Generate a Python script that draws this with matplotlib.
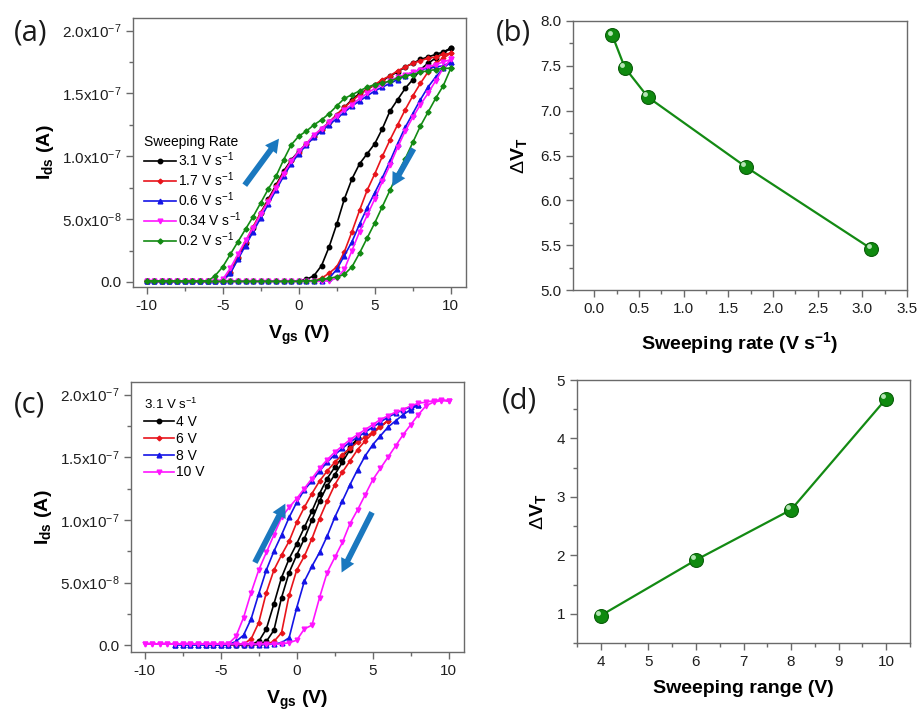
import numpy as np
import matplotlib
matplotlib.use("Agg")
import matplotlib.pyplot as plt
from matplotlib.ticker import MultipleLocator, FuncFormatter
from matplotlib.transforms import ScaledTranslation

plt.rcParams['font.family'] = ['Liberation Sans', 'DejaVu Sans']
plt.rcParams['mathtext.fontset'] = 'custom'
plt.rcParams['mathtext.rm'] = 'Liberation Sans'
plt.rcParams['mathtext.it'] = 'Liberation Sans:italic'
plt.rcParams['mathtext.bf'] = 'Liberation Sans:bold'
plt.rcParams['axes.unicode_minus'] = False

# ---------------- Panel (a): sweep -10 V -> 10 V -> -10 V, currents in 1e-7 A
a_vgs_fwd = np.arange(-10, 10.01, 0.5)
a_vgs_bwd = np.arange(10, -10.01, -0.5)
a_labels = ['3.1 V s$^{\\mathregular{-1}}$', '1.7 V s$^{\\mathregular{-1}}$', '0.6 V s$^{\\mathregular{-1}}$',
            '0.34 V s$^{\\mathregular{-1}}$', '0.2 V s$^{\\mathregular{-1}}$']
a_fwd_31 = [0.005]*10 + [0.01, 0.07, 0.19, 0.31, 0.43, 0.55, 0.66, 0.77, 0.88, 0.97, 1.04, 1.10, 1.16, 1.22, 1.27, 1.33,
                         1.39, 1.45, 1.50, 1.53, 1.57, 1.60, 1.64, 1.67, 1.71, 1.74, 1.77, 1.79, 1.81, 1.83, 1.86]
a_bwd_31 = [1.86, 1.82, 1.78, 1.74, 1.69, 1.61, 1.54, 1.45, 1.36, 1.22, 1.10, 1.02, 0.94, 0.82, 0.66, 0.46, 0.28,
            0.13, 0.05, 0.02, 0.01] + [0.005]*20
a_fwd_17 = [0.005]*10 + [0.01, 0.08, 0.20, 0.32, 0.44, 0.55, 0.65, 0.76, 0.87, 0.96, 1.03, 1.10, 1.15, 1.21, 1.27, 1.33,
                         1.39, 1.44, 1.49, 1.53, 1.57, 1.61, 1.64, 1.68, 1.71, 1.74, 1.76, 1.78, 1.79, 1.81, 1.82]
a_bwd_17 = [1.82, 1.78, 1.74, 1.67, 1.58, 1.48, 1.37, 1.25, 1.13, 1.00, 0.86, 0.73, 0.57, 0.40, 0.24, 0.12, 0.07,
            0.03, 0.01, 0.005, 0.005] + [0.005]*20
a_fwd_06 = [0.005]*10 + [0.01, 0.07, 0.18, 0.29, 0.40, 0.51, 0.62, 0.73, 0.84, 0.94, 1.02, 1.09, 1.15, 1.20, 1.25, 1.30,
                         1.35, 1.40, 1.44, 1.48, 1.52, 1.55, 1.58, 1.61, 1.64, 1.67, 1.69, 1.70, 1.71, 1.72, 1.75]
a_bwd_06 = [1.75, 1.70, 1.63, 1.55, 1.45, 1.34, 1.23, 1.10, 0.96, 0.83, 0.71, 0.59, 0.46, 0.32, 0.21, 0.10, 0.03,
            0.01, 0.005, 0.005, 0.005] + [0.005]*20
a_fwd_034 = [0.005]*10 + [0.02, 0.11, 0.22, 0.33, 0.43, 0.54, 0.64, 0.75, 0.86, 0.96, 1.04, 1.10, 1.17, 1.22, 1.27, 1.32,
                          1.37, 1.41, 1.46, 1.50, 1.54, 1.57, 1.60, 1.63, 1.65, 1.67, 1.69, 1.71, 1.73, 1.75, 1.77]
a_bwd_034 = [1.77, 1.70, 1.60, 1.50, 1.41, 1.31, 1.20, 1.07, 0.93, 0.80, 0.66, 0.53, 0.40, 0.25, 0.10, 0.03, 0.01,
             0.005, 0.005, 0.005, 0.005] + [0.005]*20
a_fwd_02 = [0.005]*9 + [0.05, 0.12, 0.22, 0.32, 0.42, 0.52, 0.63, 0.74, 0.84, 0.97, 1.09, 1.16, 1.20, 1.25, 1.29, 1.34,
                        1.40, 1.46, 1.49, 1.52, 1.55, 1.57, 1.58, 1.60, 1.62, 1.64, 1.65, 1.67, 1.68, 1.69, 1.70, 1.70]
a_bwd_02 = [1.70, 1.56, 1.46, 1.35, 1.24, 1.11, 0.98, 0.86, 0.73, 0.60, 0.47, 0.35, 0.23, 0.12, 0.06, 0.04, 0.03,
            0.02, 0.01, 0.01, 0.005] + [0.005]*20

# ---------------- Panel (c): sweeping range +-V at 3.1 V/s, currents in 1e-7 A
c_ranges = [4, 6, 8, 10]
c_labels = ['4 V', '6 V', '8 V', '10 V']
c_fwd_4 = [0.005, 0.005, 0.01, 0.03, 0.13, 0.33, 0.54, 0.69, 0.81, 0.94, 1.07, 1.21, 1.33, 1.42, 1.50, 1.58, 1.65]
c_bwd_4 = [1.65, 1.56, 1.46, 1.36, 1.27, 1.15, 1.00, 0.85, 0.72, 0.58, 0.38, 0.12, 0.03, 0.01, 0.005, 0.005, 0.005]
c_fwd_6 = [0.005]*5 + [0.01, 0.05, 0.18, 0.42, 0.60, 0.72, 0.83, 0.98, 1.10, 1.21, 1.31, 1.39, 1.46, 1.52, 1.57,
                       1.62, 1.66, 1.70, 1.75, 1.79]
c_bwd_6 = [1.79, 1.74, 1.69, 1.63, 1.56, 1.47, 1.38, 1.28, 1.15, 1.01, 0.85, 0.71, 0.60, 0.40, 0.10, 0.03, 0.01] + [0.005]*8
c_fwd_8 = [0.005]*8 + [0.03, 0.08, 0.21, 0.41, 0.60, 0.75, 0.88, 1.02, 1.14, 1.24, 1.31, 1.39, 1.46, 1.52, 1.57,
                       1.62, 1.66, 1.70, 1.74, 1.78, 1.82, 1.85, 1.88, 1.90, 1.92]
c_bwd_8 = [1.92, 1.88, 1.84, 1.79, 1.74, 1.67, 1.60, 1.51, 1.40, 1.28, 1.15, 1.02, 0.87, 0.74, 0.63, 0.51, 0.30,
           0.06, 0.02, 0.01] + [0.005]*13
c_fwd_10 = [0.01]*12 + [0.07, 0.22, 0.42, 0.60, 0.74, 0.88, 1.02, 1.10, 1.17, 1.25, 1.33, 1.41, 1.48, 1.54, 1.59,
                        1.64, 1.68, 1.72, 1.76, 1.80, 1.83, 1.86, 1.88, 1.91, 1.93, 1.94, 1.95, 1.96, 1.95]
c_bwd_10 = [1.95, 1.95, 1.94, 1.91, 1.84, 1.76, 1.68, 1.59, 1.50, 1.41, 1.32, 1.20, 1.08, 0.97, 0.82, 0.70, 0.58,
            0.38, 0.16, 0.13, 0.04, 0.02] + [0.01]*19

# ---------------- Panels (b) and (d)
b_rate = [0.2, 0.34, 0.6, 1.7, 3.1]
b_dvt = [7.84, 7.48, 7.15, 6.37, 5.46]
d_range = [4, 6, 8, 10]
d_dvt = [0.97, 1.92, 2.78, 4.68]

colors = ['#000000', '#e8141b', '#1414e6', '#ff14ff', '#138a13']
markers = ['o', 'D', '^', 'v', 'D']
msizes = [3.2, 2.4, 3.4, 3.4, 2.6]
arrow_c = '#1a78bf'
spine_c = '#6a6a6a'
text_c = '#1e1e1e'
green = '#138a13'

fig = plt.figure(figsize=(9.21, 7.15), dpi=100)
W, H = 921.0, 715.0


def add_ax(l, r, t, b):
    return fig.add_axes([l / W, 1 - b / H, (r - l) / W, (b - t) / H])


def style(ax):
    for s in ax.spines.values():
        s.set_color(spine_c)
        s.set_linewidth(1.0)
    ax.tick_params(which='both', direction='out', top=False, right=False, color=spine_c,
                   labelcolor=text_c, labelsize=11, width=1.0)
    ax.tick_params(which='major', length=5)
    ax.tick_params(which='minor', length=3)


def sci_fmt(v, pos):
    if abs(v) < 1e-12:
        return '0.0'
    e = int(np.floor(np.log10(abs(v)) + 1e-9))
    m = v / 10 ** e
    return r'$\mathregular{%.1fx10^{%d}}$' % (m, e)


def blue_arrow(ax, start, end):
    ax.annotate('', xy=end, xytext=start,
                arrowprops=dict(arrowstyle='simple,head_length=0.65,head_width=0.7,tail_width=0.28',
                                fc=arrow_c, ec='none', lw=0, mutation_scale=15, shrinkA=0, shrinkB=0))


axa = add_ax(133, 466, 18, 287)
axb = add_ax(573, 907, 21, 290)
axc = add_ax(131, 464, 382, 652)
axd = add_ax(577, 910, 380, 643)
for ax in (axa, axb, axc, axd):
    style(ax)

# ---- (a)
a_fwd = [a_fwd_31, a_fwd_17, a_fwd_06, a_fwd_034, a_fwd_02]
a_bwd = [a_bwd_31, a_bwd_17, a_bwd_06, a_bwd_034, a_bwd_02]
handles = []
for i in range(5):
    x = np.concatenate([a_vgs_fwd, a_vgs_bwd])
    y = np.concatenate([a_fwd[i], a_bwd[i]]) * 1e-7
    h, = axa.plot(x, y, color=colors[i], marker=markers[i], ms=msizes[i], lw=1.2, label=a_labels[i])
    handles.append(h)
axa.set_xlim(-10.9, 11.0)
axa.set_ylim(-0.04e-7, 2.1e-7)
axa.xaxis.set_major_locator(MultipleLocator(5))
axa.xaxis.set_minor_locator(MultipleLocator(2.5))
axa.yaxis.set_major_locator(MultipleLocator(0.5e-7))
axa.yaxis.set_minor_locator(MultipleLocator(0.25e-7))
axa.yaxis.set_major_formatter(FuncFormatter(sci_fmt))
axa.set_xlabel(r'$\mathbf{V_{gs}}$ (V)', fontsize=14, fontweight='bold', labelpad=8)
axa.set_ylabel(r'$\mathbf{I_{ds}}$ (A)', fontsize=14, fontweight='bold', labelpad=4)
axa.legend(handles=handles, loc='upper left', bbox_to_anchor=(0.0, 0.605), frameon=False,
           title='Sweeping Rate', title_fontsize=10, fontsize=10, handlelength=2.3,
           handletextpad=0.15, labelspacing=0.1, borderpad=0.3, alignment='left')
blue_arrow(axa, (-3.55, 0.77e-7), (-1.3, 1.14e-7))
blue_arrow(axa, (7.55, 1.06e-7), (6.15, 0.76e-7))

# ---- (c)
c_fwd = [c_fwd_4, c_fwd_6, c_fwd_8, c_fwd_10]
c_bwd = [c_bwd_4, c_bwd_6, c_bwd_8, c_bwd_10]
c_marks = ['o', 'D', '^', 'v']
handles = []
for i, v in enumerate(c_ranges):
    xf = np.arange(-v, v + 0.01, 0.5)
    xb = np.arange(v, -v - 0.01, -0.5)
    x = np.concatenate([xf, xb])
    y = np.concatenate([c_fwd[i], c_bwd[i]]) * 1e-7
    h, = axc.plot(x, y, color=colors[i], marker=c_marks[i], ms=msizes[i], lw=1.2, label=c_labels[i])
    handles.append(h)
axc.set_xlim(-10.9, 11.0)
axc.set_ylim(-0.054e-7, 2.1e-7)
axc.xaxis.set_major_locator(MultipleLocator(5))
axc.xaxis.set_minor_locator(MultipleLocator(2.5))
axc.yaxis.set_major_locator(MultipleLocator(0.5e-7))
axc.yaxis.set_minor_locator(MultipleLocator(0.25e-7))
axc.yaxis.set_major_formatter(FuncFormatter(sci_fmt))
axc.set_xlabel(r'$\mathbf{V_{gs}}$ (V)', fontsize=14, fontweight='bold', labelpad=8)
axc.set_ylabel(r'$\mathbf{I_{ds}}$ (A)', fontsize=14, fontweight='bold', labelpad=4)
axc.legend(handles=handles, loc='upper left', bbox_to_anchor=(0.005, 0.985), frameon=False,
           title='3.1 V s$^{\\mathregular{-1}}$', title_fontsize=9.5, fontsize=10, handlelength=2.2,
           handletextpad=0.15, labelspacing=0.2, borderpad=0.3, alignment='left')
blue_arrow(axc, (-2.75, 0.66e-7), (-0.75, 1.13e-7))
blue_arrow(axc, (4.95, 1.06e-7), (2.95, 0.58e-7))


def sphere_plot(ax, x, y):
    ax.plot(x, y, color=green, lw=1.6, marker='o', ms=10, markerfacecolor='#0f8a0f',
            markeredgecolor='#0a5e0a', markeredgewidth=0.8, zorder=3)
    off = ScaledTranslation(-2 / 72, 2 / 72, fig.dpi_scale_trans)
    ax.plot(x, y, ls='none', marker='o', ms=3.5, markerfacecolor='#c8f0c8', markeredgewidth=0,
            alpha=0.9, transform=ax.transData + off, zorder=4)


# ---- (b)
sphere_plot(axb, b_rate, b_dvt)
axb.set_xlim(-0.24, 3.5)
axb.set_ylim(5.0, 8.0)
axb.xaxis.set_major_locator(MultipleLocator(0.5))
axb.xaxis.set_minor_locator(MultipleLocator(0.25))
axb.yaxis.set_major_locator(MultipleLocator(0.5))
axb.yaxis.set_minor_locator(MultipleLocator(0.25))
axb.xaxis.set_major_formatter(FuncFormatter(lambda v, p: '%.1f' % v))
axb.yaxis.set_major_formatter(FuncFormatter(lambda v, p: '%.1f' % v))
axb.set_xlabel(r'Sweeping rate (V s$^{\mathbf{-1}}$)', fontsize=14, fontweight='bold', labelpad=10)
axb.set_ylabel(r'$\Delta\mathbf{V_T}$', fontsize=14, fontweight='bold', labelpad=8)

# ---- (d)
sphere_plot(axd, d_range, d_dvt)
axd.set_xlim(3.5, 10.5)
axd.set_ylim(0.5, 5.0)
axd.xaxis.set_major_locator(MultipleLocator(1))
axd.xaxis.set_minor_locator(MultipleLocator(0.5))
axd.yaxis.set_major_locator(MultipleLocator(1))
axd.yaxis.set_minor_locator(MultipleLocator(0.5))
axd.set_xlabel('Sweeping range (V)', fontsize=14, fontweight='bold', labelpad=8)
axd.set_ylabel(r'$\Delta\mathbf{V_T}$', fontsize=14, fontweight='bold', labelpad=6)

# panel letters
for lab, (px, py) in zip(['(a)', '(b)', '(c)', '(d)'], [(31, 33), (513, 33), (29, 405), (519, 401)]):
    fig.text(px / W, 1 - py / H, lab, fontsize=21, ha='center', va='center',
             family=['Open Sans', 'DejaVu Sans'], color='#1a1a1a')

fig.savefig('out.png', dpi=100)
